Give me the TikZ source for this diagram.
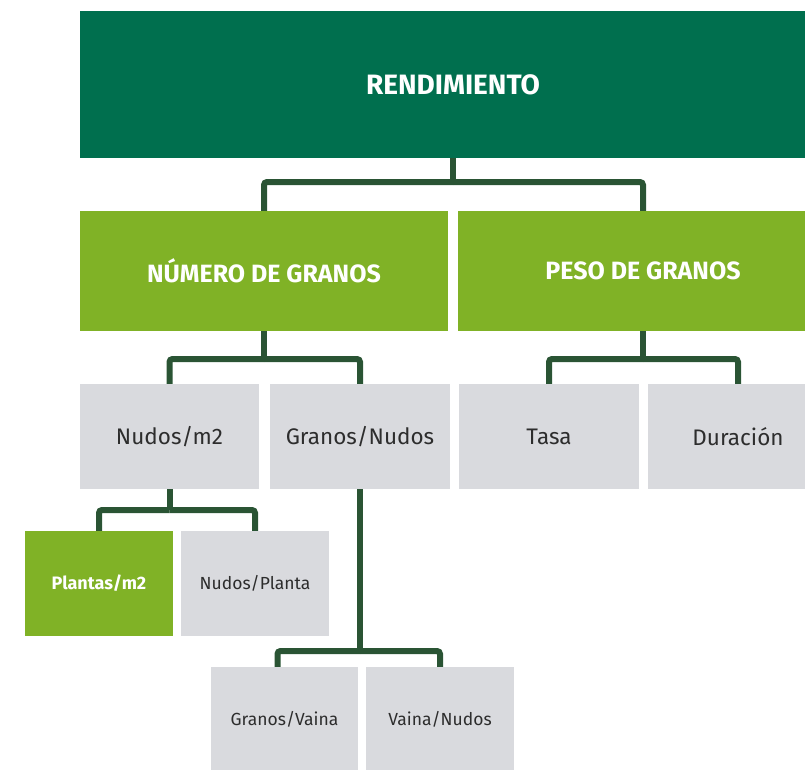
\documentclass[tikz,border=0pt]{standalone}
\usepackage{fontspec}
\setmainfont{Fira Sans}
\definecolor{verdeosc}{RGB}{0,111,78}
\definecolor{verdecla}{RGB}{128,178,38}
\definecolor{gris}{RGB}{217,218,222}
\definecolor{rama}{RGB}{42,84,52}
\definecolor{texto}{RGB}{45,45,45}

\begin{document}
\begin{tikzpicture}[x=1pt,y=-1pt,
    cajaosc/.style={fill=verdeosc,text=white,inner sep=0pt,font=\fontsize{28}{32}\selectfont\bfseries},
    cajaverde/.style={fill=verdecla,text=white,inner sep=0pt,minimum height=120pt,font=\fontsize{25}{30}\selectfont\bfseries},
    cajagris/.style={fill=gris,text=texto,inner sep=0pt,minimum height=105pt,minimum width=180pt,font=\fontsize{22.5}{26}\selectfont},
    cajachica/.style={fill=gris,text=texto,inner sep=0pt,minimum height=105pt,minimum width=148pt,font=\fontsize{17.5}{21}\selectfont},
    linea/.style={draw=rama,line width=6pt,rounded corners=3pt}]

    \useasboundingbox (0,0) rectangle (805,769);

    % nivel 1
    \node[cajaosc,minimum width=746pt,minimum height=147pt] (rend) at (453,84.5) {RENDIMIENTO};

    % nivel 2
    \node[cajaverde,minimum width=368pt] (numero) at (264,271) {NÚMERO DE GRANOS};
    \node[cajaverde,minimum width=370pt] (peso) at (643,271) {PESO DE GRANOS};

    % nivel 3
    \node[cajagris,minimum width=179pt] (nudosm) at (169.5,436.5) {Nudos/m2};
    \node[cajagris] (granosnudos) at (360,436.5) {Granos/Nudos};
    \node[cajagris] (tasa) at (549,436.5) {Tasa};
    \node[cajagris] (duracion) at (738,436.5) {Duración};

    % nivel 4
    \node[cajachica,fill=verdecla,text=white,font=\fontsize{18}{21}\selectfont\bfseries] (plantas) at (99,583.5) {Plantas/m2};
    \node[cajachica] (nudosplanta) at (255,583.5) {Nudos/Planta};
    \node[cajachica,minimum width=147pt] (granosvaina) at (284.5,719.5) {Granos/Vaina};
    \node[cajachica] (vainanudos) at (440,719.5) {Vaina/Nudos};

    % ramas
    \coordinate (j1) at (453,182);
    \coordinate (j2) at (264,359);
    \coordinate (j3) at (643,359);
    \coordinate (j4) at (169.5,510);
    \coordinate (j5) at (360,651);

    \draw[linea] (rend.south) -- (j1);
    \draw[linea] (j1) -| (numero.north);
    \draw[linea] (j1) -| (peso.north);

    \draw[linea] (numero.south) -- (j2);
    \draw[linea] (j2) -| (nudosm.north);
    \draw[linea] (j2) -| (granosnudos.north);

    \draw[linea] (peso.south) -- (j3);
    \draw[linea] (j3) -| (tasa.north);
    \draw[linea] (j3) -| (duracion.north);

    \draw[linea] (nudosm.south) -- (j4);
    \draw[linea] (j4) -| (plantas.north);
    \draw[linea] (j4) -| (nudosplanta.north);

    \draw[linea] (granosnudos.south) -- (j5);
    \draw[linea] (j5) -| ([xshift=-7pt]granosvaina.north);
    \draw[linea] (j5) -| (vainanudos.north);

\end{tikzpicture}
\end{document}
